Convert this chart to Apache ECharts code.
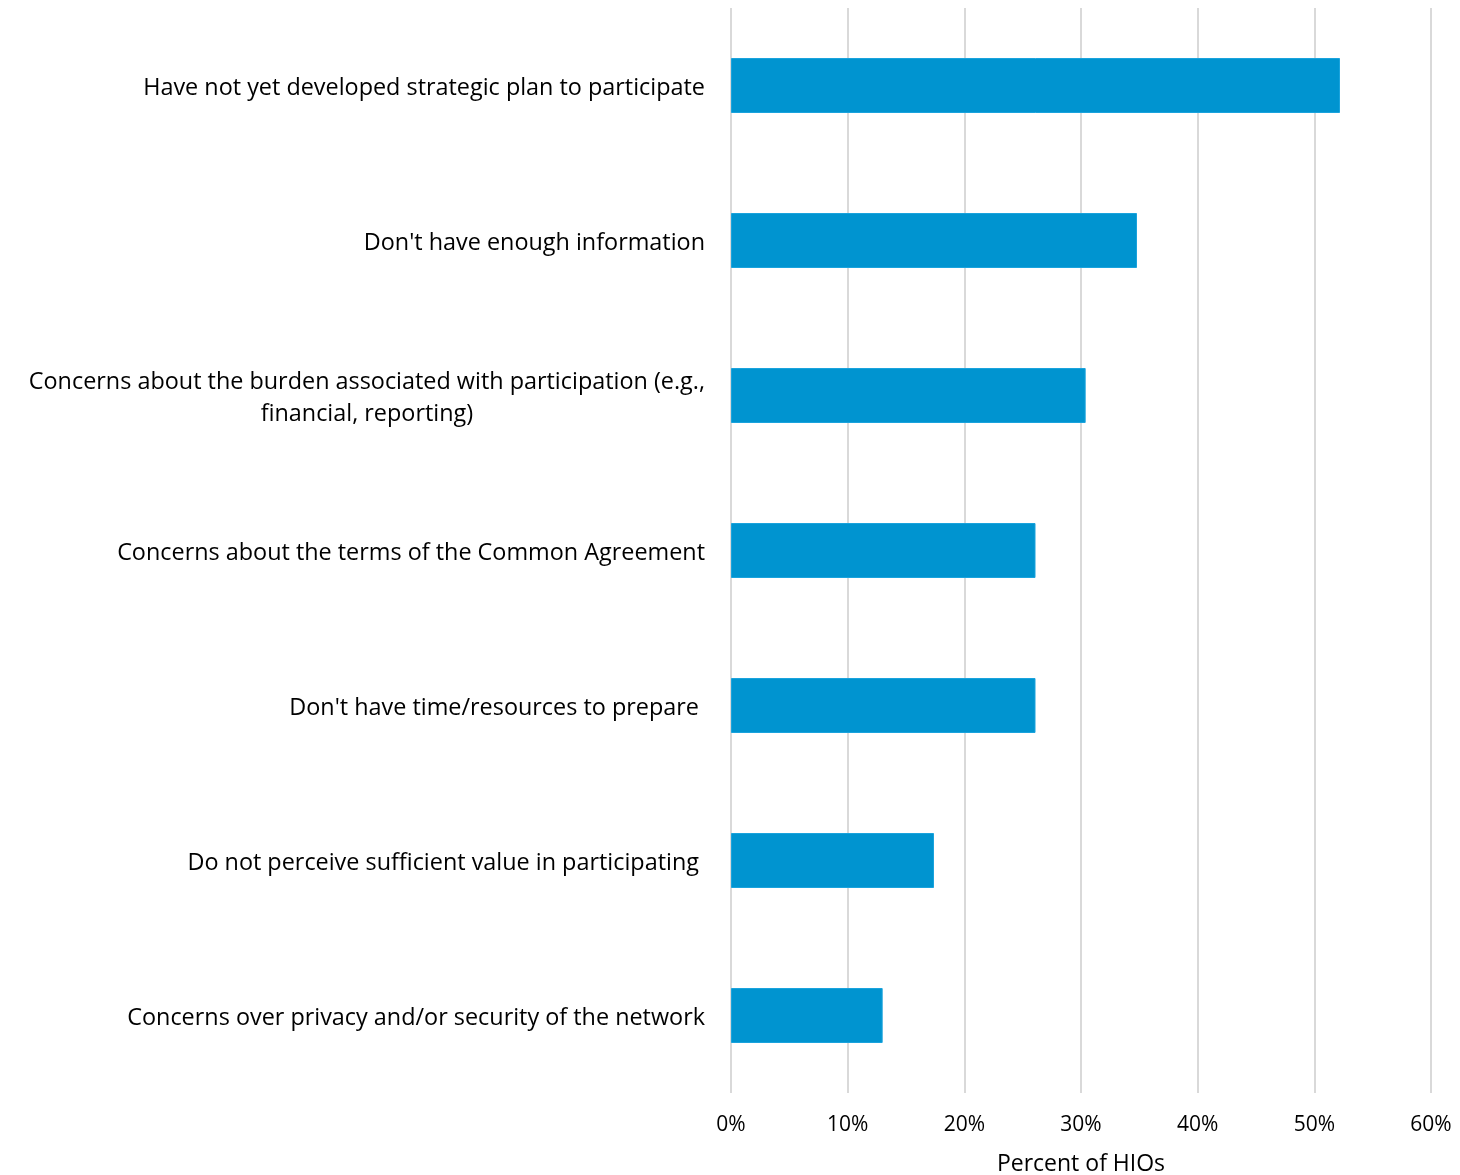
<!DOCTYPE html>
<html>
<head>
<meta charset="utf-8">
<script src="https://cdn.jsdelivr.net/npm/echarts@6/dist/echarts.min.js"></script>
<style>
  html, body { margin: 0; padding: 0; background: #fff; }
  #chart { width: 1460px; height: 1175px; }
</style>
</head>
<body>
<div id="chart"></div>
<script>
// Reasons HIOs give for not participating (share of respondents)
const categories = [
  "Have not yet developed strategic plan to participate",
  "Don't have enough information",
  "Concerns about the burden associated with participation (e.g.,\nfinancial, reporting)",
  "Concerns about the terms of the Common Agreement",
  "Don't have time/resources to prepare ",
  "Do not perceive sufficient value in participating ",
  "Concerns over privacy and/or security of the network"
];
const percentValues = [52.2, 34.8, 30.4, 26.1, 26.1, 17.4, 13.0];
const tickValues = [0, 10, 20, 30, 40, 50, 60];

const FONT = "'Open Sans', 'Noto Sans', sans-serif";

const chart = echarts.init(document.getElementById('chart'), null, { renderer: 'canvas' });
chart.setOption({
  animation: false,
  backgroundColor: '#ffffff',
  grid: {
    left: 731, right: 29, top: 8, bottom: 82,
    containLabel: false,
    outerBoundsMode: 'none'
  },
  xAxis: {
    type: 'value',
    min: tickValues[0],
    max: tickValues[tickValues.length - 1],
    interval: 10,
    name: 'Percent of HIOs',
    nameLocation: 'middle',
    nameGap: 60,
    nameTextStyle: { fontFamily: FONT, fontSize: 23, color: '#000' },
    axisLine: { show: false },
    axisTick: { show: false },
    axisLabel: {
      margin: 22,
      fontFamily: FONT,
      fontSize: 21,
      color: '#000',
      formatter: v => v + '%'
    },
    splitLine: { show: true, lineStyle: { color: '#d9d9d9', width: 2 } }
  },
  yAxis: {
    type: 'category',
    inverse: true,
    data: categories,
    axisLine: { show: false },
    axisTick: { show: false },
    axisLabel: {
      margin: 26,
      align: 'right',
      padding: [6, 0, 0, 0],
      fontFamily: FONT,
      fontSize: 23.4,
      color: '#000',
      lineHeight: 32,
      formatter: v => v.split('\n').map(s => '{c|' + s + '}').join('\n'),
      rich: {
        c: { align: 'center', fontFamily: FONT, fontSize: 23.4, color: '#000', lineHeight: 32 }
      }
    }
  },
  series: [{
    type: 'bar',
    data: percentValues,
    barWidth: 55,
    itemStyle: { color: '#0094d0', borderColor: '#1aa3dd', borderWidth: 1 }
  }]
});
</script>
</body>
</html>
